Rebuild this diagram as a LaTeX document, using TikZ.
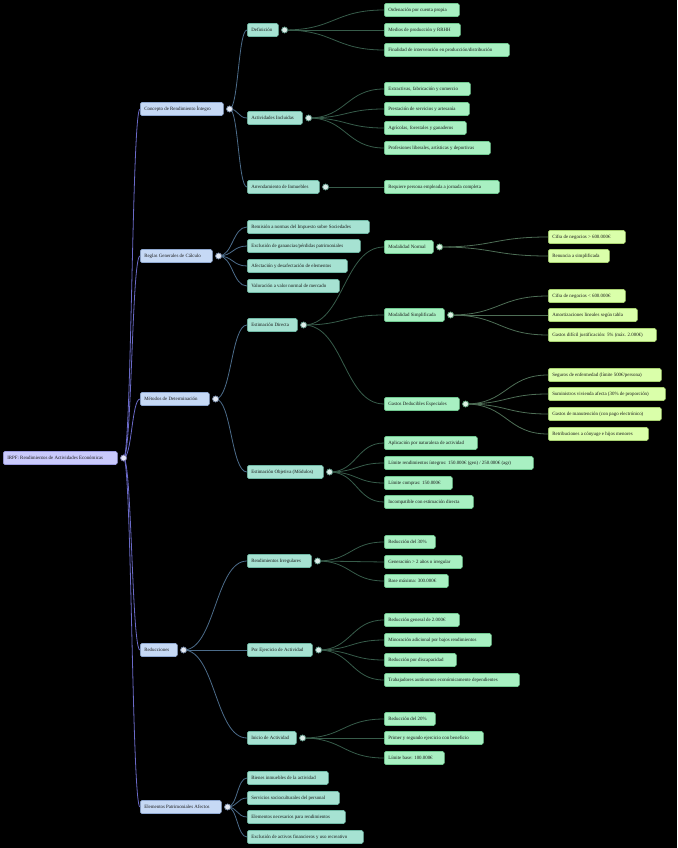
\documentclass[tikz,border=0pt]{standalone}
\usepackage{fontspec}
\setmainfont{Liberation Serif}
\usetikzlibrary{calc}
\definecolor{bg}{HTML}{000000}
\definecolor{f0}{HTML}{CACAFC}\definecolor{d0}{HTML}{9C9CE0}
\definecolor{f1}{HTML}{C6D9F5}\definecolor{d1}{HTML}{8FA8D0}
\definecolor{f2}{HTML}{A6E2D2}\definecolor{d2}{HTML}{70B8A5}
\definecolor{f3}{HTML}{A8F0C2}\definecolor{d3}{HTML}{70C890}
\definecolor{f4}{HTML}{DAFFAA}\definecolor{d4}{HTML}{A8D070}
\definecolor{k0}{HTML}{6A6AC8}
\definecolor{k1}{HTML}{4C6C8A}
\definecolor{k2}{HTML}{375C4A}
\definecolor{k3}{HTML}{4E6E56}
\definecolor{tx}{HTML}{1A1A1A}
\tikzset{
  bx/.style={rounded corners=1.5pt, line width=0.6pt, minimum height=13pt, inner xsep=4pt, inner ysep=0pt, anchor=west, text=tx, font=\fontsize{4.9}{5.6}\selectfont},
  L0/.style={bx, fill=f0, draw=d0},
  L1/.style={bx, fill=f1, draw=d1},
  L2/.style={bx, fill=f2, draw=d2},
  L3/.style={bx, fill=f3, draw=d3},
  L4/.style={bx, fill=f4, draw=d4},
  dotc/.style={circle, minimum size=6pt, inner sep=0pt, line width=0.6pt, fill=white!75!#1, draw=#1!70!black},
  lk/.style={line width=0.8pt, draw=#1},
}
\newcommand\bx[6][L1]{\node[#1] (#2) at (#3,#4) {\makebox[\dimexpr#5pt-8pt\relax][l]{#6}};}
\newcommand\cc[2]{\node[dotc=#2] (#1c) at ([xshift=6pt]#1.east) {};}
\newcommand\lnk[3]{\draw[lk=#1] let \p1=(#2c.center), \p2=(#3.west), \n1={(\x1+\x2)/2} in (\p1) .. controls (\n1,\y1) and (\n1,\y2) .. (\p2);}
\begin{document}
\begin{tikzpicture}[x=1pt,y=-1pt]
\fill[bg] (0,0) rectangle (677,848);
\useasboundingbox (0,0) rectangle (677,848);
% root
\bx[L0]{R}{3}{458}{114}{IRPF: Rendimientos de Actividades Económicas}
% level 1
\bx[L1]{A}{140}{109}{83}{Concepto de Rendimiento Íntegro}
\bx[L1]{B}{140}{256}{72}{Reglas Generales de Cálculo}
\bx[L1]{C}{140}{399}{69}{Métodos de Determinación}
\bx[L1]{D}{140}{650}{37}{Reducciones}
\bx[L1]{E}{140}{807}{81}{Elementos Patrimoniales Afectos}
% A
\bx[L2]{A1}{247}{30}{31}{Definición}
\bx[L2]{A2}{247}{118}{55}{Actividades Incluidas}
\bx[L2]{A3}{247}{187}{72}{Arrendamiento de Inmuebles}
\bx[L3]{A11}{384}{10}{75}{Ordenación por cuenta propia}
\bx[L3]{A12}{384}{30}{76}{Medios de producción y RRHH}
\bx[L3]{A13}{384}{50}{125}{Finalidad de intervención en producción/distribución}
\bx[L3]{A21}{384}{89}{86}{Extractivas, fabricación y comercio}
\bx[L3]{A22}{384}{109}{85}{Prestación de servicios y artesanía}
\bx[L3]{A23}{384}{128}{82}{Agrícolas, forestales y ganaderos}
\bx[L3]{A24}{384}{148}{106}{Profesiones liberales, artísticas y deportivas}
\bx[L3]{A31}{384}{187}{115}{Requiere persona empleada a jornada completa}
% B
\bx[L2]{B1}{247}{227}{122}{Remisión a normas del Impuesto sobre Sociedades}
\bx[L2]{B2}{247}{246}{113}{Exclusión de ganancias/pérdidas patrimoniales}
\bx[L2]{B3}{247}{266}{100}{Afectación y desafectación de elementos}
\bx[L2]{B4}{247}{286}{92}{Valoración a valor normal de mercado}
% C
\bx[L2]{C1}{247}{325}{50}{Estimación Directa}
\bx[L2]{C2}{247}{472}{76}{Estimación Objetiva (Módulos)}
\bx[L3]{C11}{384}{247}{49}{Modalidad Normal}
\bx[L3]{C12}{384}{315}{60}{Modalidad Simplificada}
\bx[L3]{C13}{384}{404}{75}{Gastos Deducibles Especiales}
\bx[L4]{C111}{548}{237}{77}{Cifra de negocios > 600.000€}
\bx[L4]{C112}{548}{256}{61}{Renuncia a simplificada}
\bx[L4]{C121}{548}{296}{77}{Cifra de negocios < 600.000€}
\bx[L4]{C122}{548}{315}{89}{Amortizaciones lineales según tabla}
\bx[L4]{C123}{548}{335}{108}{Gastos difícil justificación: 5\% (máx. 2.000€)}
\bx[L4]{C131}{548}{375}{113}{Seguros de enfermedad (límite 500€/persona)}
\bx[L4]{C132}{548}{394}{117}{Suministros vivienda afecta (30\% de proporción)}
\bx[L4]{C133}{548}{414}{113}{Gastos de manutención (con pago electrónico)}
\bx[L4]{C134}{548}{434}{100}{Retribuciones a cónyuge e hijos menores}
\bx[L3]{C21}{384}{443}{93}{Aplicación por naturaleza de actividad}
\bx[L3]{C22}{384}{463}{149}{Límite rendimientos íntegros: 150.000€ (gen) / 250.000€ (agr)}
\bx[L3]{C23}{384}{483}{68}{Límite compras: 150.000€}
\bx[L3]{C24}{384}{502}{89}{Incompatible con estimación directa}
% D
\bx[L2]{D1}{247}{561}{64}{Rendimientos Irregulares}
\bx[L2]{D2}{247}{650}{65}{Por Ejercicio de Actividad}
\bx[L2]{D3}{247}{738}{49}{Inicio de Actividad}
\bx[L3]{D11}{384}{542}{51}{Reducción del 30\%}
\bx[L3]{D12}{384}{562}{78}{Generación > 2 años o irregular}
\bx[L3]{D13}{384}{581}{64}{Base máxima: 300.000€}
\bx[L3]{D21}{384}{620}{75}{Reducción general de 2.000€}
\bx[L3]{D22}{384}{640}{107}{Minoración adicional por bajos rendimientos}
\bx[L3]{D23}{384}{660}{72}{Reducción por discapacidad}
\bx[L3]{D24}{384}{680}{135}{Trabajadores autónomos económicamente dependientes}
\bx[L3]{D31}{384}{719}{51}{Reducción del 20\%}
\bx[L3]{D32}{384}{738}{99}{Primer y segundo ejercicio con beneficio}
\bx[L3]{D33}{384}{758}{60}{Límite base: 100.000€}
% E
\bx[L2]{E1}{247}{778}{81}{Bienes inmuebles de la actividad}
\bx[L2]{E2}{247}{798}{92}{Servicios socioculturales del personal}
\bx[L2]{E3}{247}{817}{98}{Elementos necesarios para rendimientos}
\bx[L2]{E4}{247}{837}{116}{Exclusión de activos financieros y uso recreativo}
% circle anchors (named, drawn again on top below)
\cc{R}{d0}
\cc{A}{d1}\cc{B}{d1}\cc{C}{d1}\cc{D}{d1}\cc{E}{d1}
\cc{A1}{d2}\cc{A2}{d2}\cc{A3}{d2}\cc{C1}{d2}\cc{C2}{d2}\cc{D1}{d2}\cc{D2}{d2}\cc{D3}{d2}
\cc{C11}{d3}\cc{C12}{d3}\cc{C13}{d3}
% links
\foreach \t in {A,B,C,D,E}{\lnk{k0}{R}{\t}}
\foreach \t in {A1,A2,A3}{\lnk{k1}{A}{\t}}
\foreach \t in {B1,B2,B3,B4}{\lnk{k1}{B}{\t}}
\foreach \t in {C1,C2}{\lnk{k1}{C}{\t}}
\foreach \t in {D1,D2,D3}{\lnk{k1}{D}{\t}}
\foreach \t in {E1,E2,E3,E4}{\lnk{k1}{E}{\t}}
\foreach \t in {A11,A12,A13}{\lnk{k2}{A1}{\t}}
\foreach \t in {A21,A22,A23,A24}{\lnk{k2}{A2}{\t}}
\lnk{k2}{A3}{A31}
\foreach \t in {C11,C12,C13}{\lnk{k2}{C1}{\t}}
\foreach \t in {C21,C22,C23,C24}{\lnk{k2}{C2}{\t}}
\foreach \t in {D11,D12,D13}{\lnk{k2}{D1}{\t}}
\foreach \t in {D21,D22,D23,D24}{\lnk{k2}{D2}{\t}}
\foreach \t in {D31,D32,D33}{\lnk{k2}{D3}{\t}}
\foreach \t in {C111,C112}{\lnk{k3}{C11}{\t}}
\foreach \t in {C121,C122,C123}{\lnk{k3}{C12}{\t}}
\foreach \t in {C131,C132,C133,C134}{\lnk{k3}{C13}{\t}}
% redraw circles on top
\cc{R}{d0}
\cc{A}{d1}\cc{B}{d1}\cc{C}{d1}\cc{D}{d1}\cc{E}{d1}
\cc{A1}{d2}\cc{A2}{d2}\cc{A3}{d2}\cc{C1}{d2}\cc{C2}{d2}\cc{D1}{d2}\cc{D2}{d2}\cc{D3}{d2}
\cc{C11}{d3}\cc{C12}{d3}\cc{C13}{d3}
\end{tikzpicture}
\end{document}
